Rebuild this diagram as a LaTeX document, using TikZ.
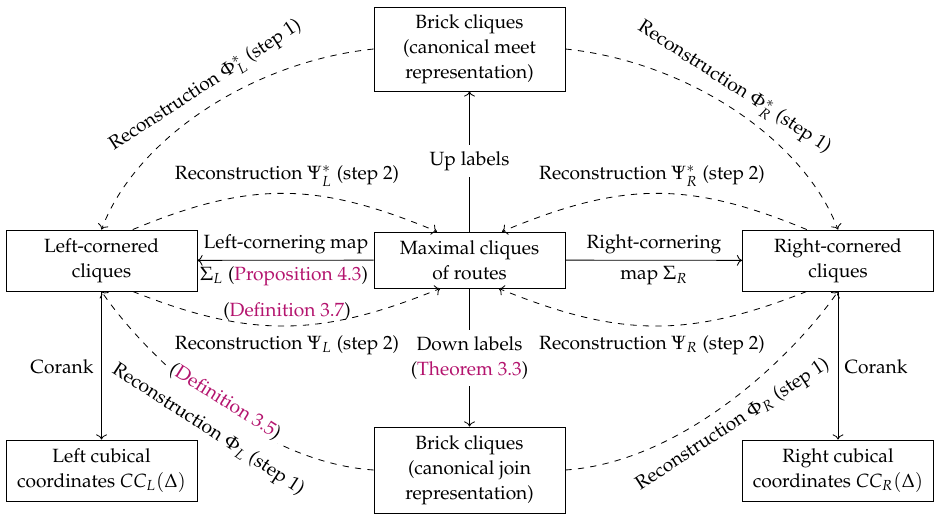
\documentclass[tikz,border=0pt]{standalone}
\usepackage[T1]{fontenc}
\usepackage{mathpazo}
\usetikzlibrary{cd}
\definecolor{linkc}{RGB}{180,20,110}
\newcommand{\lk}[1]{\textcolor{linkc}{#1}}
\tikzset{
  box/.style={draw, fill=white, align=center, minimum width=91.7pt, inner sep=2pt},
  arr/.style={-{cm to}},
  darr/.style={-{cm to}, dashed},
  lab/.style={inner sep=1pt, align=center},
  wlab/.style={inner sep=1.5pt, align=center, fill=white},
}
\begin{document}
\begin{tikzpicture}[x=0.48pt, y=-0.48pt, font=\fontsize{9.2}{12}\selectfont]
\useasboundingbox (0,0) rectangle (940,521);
% nodes
\node[box, minimum height=40.3pt] (T) at (469.5,49) {Brick cliques\\(canonical meet\\representation)};
\node[box, minimum height=26.9pt] (M) at (469.5,260) {Maximal cliques\\of routes};
\node[box, minimum height=29.3pt] (L) at (101.5,260.5) {Left-cornered\\cliques};
\node[box, minimum height=29.3pt] (R) at (838,260.5) {Right-cornered\\cliques};
\node[box, minimum height=29.3pt] (LC) at (101.5,470.5) {Left cubical\\coordinates $CC_L(\Delta)$};
\node[box, minimum height=29.3pt] (RC) at (838,470.5) {Right cubical\\coordinates $CC_R(\Delta)$};
\node[box, minimum height=41.3pt] (B) at (469.5,470) {Brick cliques\\(canonical join\\representation)};
% solid arrows
\draw[arr] (M) -- (T);
\node[wlab, inner sep=3pt] (up) at (469.5,161) {Up labels};
\draw[arr] (M) -- (B);
\node[wlab, inner sep=3pt] (down) at (469.5,358) {Down labels\\(\lk{Theorem 3.3})};
\draw[arr] (M) -- (L);
\node[lab] (lcm) at (286,244) {Left-cornering map};
\node[lab] (lcs) at (284,276) {$\Sigma_L$ (\lk{Proposition 4.3})};
\draw[arr] (M) -- (R);
\node[lab] (rcm) at (654,244) {Right-cornering};
\node[lab] (rcs) at (654,276) {map $\Sigma_R$};
\draw[arr] (L) -- (LC);
\node[lab] (cl) at (62,367) {Corank};
\draw[arr] (R) -- (RC);
\node[lab] (cr) at (876,367) {Corank};
% dashed upper
\draw[darr] (T.west) .. controls (250,62) and (135,140) .. (L.north);
\node[lab, rotate=33] (phils) at (206,86) {Reconstruction $\Phi_L^*$ (step 1)};
\draw[darr] (T.east) .. controls (689,62) and (804,140) .. (R.north);
\node[lab, rotate=-33] (phirs) at (734,88) {Reconstruction $\Phi_R^*$ (step 1)};
\draw[darr] ([xshift=15pt]L.north) .. controls (252,180) and (318,182) .. ([xshift=-15.6pt]M.north);
\node[lab] (psils) at (287,176) {Reconstruction $\Psi_L^*$ (step 2)};
\draw[darr] ([xshift=-15pt]R.north) .. controls (687,180) and (621,182) .. ([xshift=15.6pt]M.north);
\node[lab] (psirs) at (652,176) {Reconstruction $\Psi_R^*$ (step 2)};
% dashed lower
\draw[darr] ([xshift=15pt]L.south) .. controls (252,339) and (321,337) .. ([xshift=-14pt]M.south);
\node[lab] (def37) at (287,312) {(\lk{Definition 3.7})};
\node[lab] (psil) at (287,345) {Reconstruction $\Psi_L$ (step 2)};
\draw[darr] ([xshift=-15pt]R.south) .. controls (687,339) and (618,337) .. ([xshift=14pt]M.south);
\node[lab] (psir) at (652,345) {Reconstruction $\Psi_R$ (step 2)};
\draw[darr] (B.west) .. controls (255,462) and (145,355) .. (L.south);
\node[wlab, rotate=-32] (def35) at (225,402) {(\lk{Definition 3.5})};
\node[lab, rotate=-33] (phil) at (208,430) {Reconstruction $\Phi_L$ (step 1)};
\draw[darr] (B.east) .. controls (684,462) and (794,355) .. (R.south);
\node[lab, rotate=33] (phir) at (733,425) {Reconstruction $\Phi_R$ (step 1)};
\end{tikzpicture}
\end{document}
